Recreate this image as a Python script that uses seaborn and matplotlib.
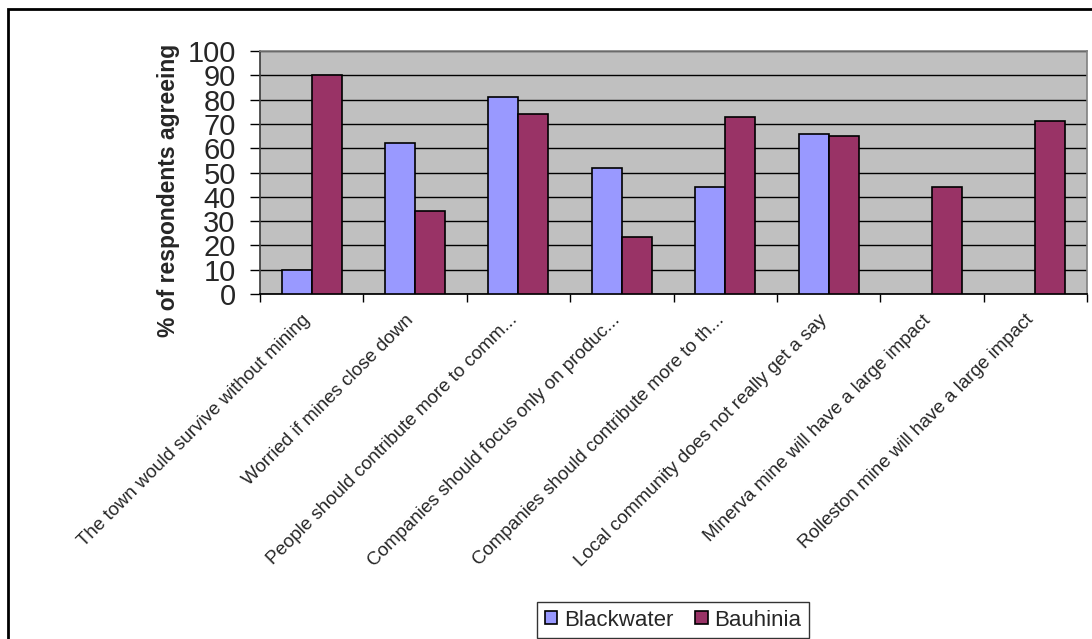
import matplotlib
matplotlib.use("Agg")
import matplotlib.pyplot as plt
from matplotlib.patches import Rectangle
from matplotlib.ticker import FixedLocator
from matplotlib.transforms import ScaledTranslation
import numpy as np
import pandas as pd
import seaborn as sns

# Survey statements (as abbreviated on the axis)
statements = [
    "The town would survive without mining",
    "Worried if mines close down",
    "People should contribute more to comm...",
    "Companies should focus only on produc...",
    "Companies should contribute more to th...",
    "Local community does not really get a say",
    "Minerva mine will have a large impact",
    "Rolleston mine will have a large impact",
]
towns = ["Blackwater", "Bauhinia"]
blackwater = [10, 62, 81, 52, 44, 66, np.nan, np.nan]
bauhinia = [90, 34, 74, 23.5, 73, 65, 44, 71]
y_ticks = list(range(0, 101, 10))

df = pd.DataFrame({
    "statement": statements * 2,
    "town": [towns[0]] * len(statements) + [towns[1]] * len(statements),
    "pct": blackwater + bauhinia,
})

sns.set_theme(style="white")
plt.rcParams["font.family"] = ["Liberation Sans", "DejaVu Sans"]

W, H = 1092, 639
fig = plt.figure(figsize=(W / 100, H / 100), dpi=100)
ax = fig.add_axes([260 / W, 1 - 294 / H, 827 / W, 243 / H])
ax.set_facecolor("#C0C0C0")

sns.barplot(
    data=df, x="statement", y="pct", hue="town",
    order=statements, hue_order=towns,
    palette=["#9999FF", "#993366"], width=0.58,
    edgecolor="black", linewidth=1.2, saturation=1,
    ax=ax, zorder=3,
)

ax.set_xlim(-0.5, len(statements) - 0.5)
ax.set_ylim(0, 100)
ax.set_yticks(y_ticks)
ax.yaxis.grid(True, color="black", linewidth=1.0, zorder=1)
ax.set_axisbelow(True)

# Category boundaries carry the x tick marks
ax.xaxis.set_minor_locator(FixedLocator(np.arange(-0.5, len(statements), 1.0)))
ax.tick_params(axis="x", which="major", length=0, pad=14)
ax.tick_params(axis="x", which="minor", length=6, width=1, color="black",
               direction="out", bottom=True)
ax.tick_params(axis="y", which="major", length=7, width=1, color="black",
               direction="out", left=True, pad=10.5, labelsize=21)

shift = ScaledTranslation(-4 / 100, -4 / 100, fig.dpi_scale_trans)
for lbl in ax.get_xticklabels():
    lbl.set_rotation(45)
    lbl.set_ha("right")
    lbl.set_va("center")
    lbl.set_rotation_mode("anchor")
    lbl.set_fontsize(13.5)
    lbl.set_transform(lbl.get_transform() + shift)

ax.set_xlabel("")
ax.set_ylabel("")
fig.text(169 / W, 1 - 190 / H, "% of respondents agreeing", rotation=90,
         ha="center", va="center", fontsize=16.5, fontweight="bold")

for side in ["top", "right"]:
    ax.spines[side].set_color("#808080")
    ax.spines[side].set_linewidth(1.2)
ax.spines["left"].set_color("#404040")
ax.spines["bottom"].set_color("black")

ax.legend_.remove()
handles, labels = ax.get_legend_handles_labels()
leg = fig.legend(
    handles, labels, loc="center", bbox_to_anchor=(673 / W, 1 - 620 / H),
    ncol=2, fontsize=16, frameon=True, fancybox=False, edgecolor="black",
    handlelength=0.55, handleheight=0.55, handletextpad=0.3, columnspacing=1.0,
    borderpad=0.35,
)
leg.get_frame().set_linewidth(1.0)

# Chart-area border
fig.patches.append(Rectangle((8 / W, -0.1), 1.2, 1 - 9 / H + 0.1,
                             transform=fig.transFigure, fill=False,
                             edgecolor="black", linewidth=2.0))

fig.savefig("out.png", dpi=100)
